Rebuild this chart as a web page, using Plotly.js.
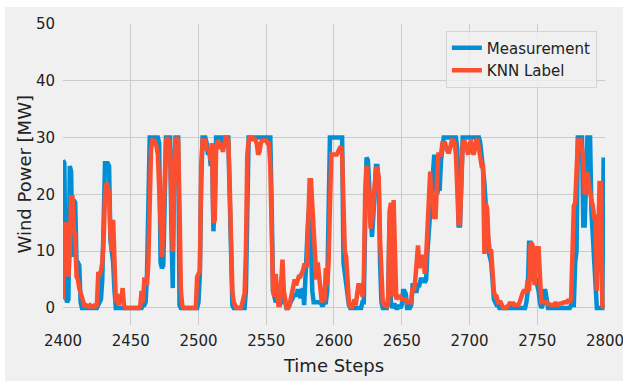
<!DOCTYPE html>
<html>
<head>
<meta charset="utf-8">
<script src="https://cdn.plot.ly/plotly-3.0.1.min.js"></script>
<style>
  html, body { margin: 0; padding: 0; background: #ffffff; }
  #chart { position: absolute; left: 5px; top: 7px; width: 618px; height: 374px; }
</style>
</head>
<body>
<div id="chart"></div>
<script>
const startStep = 2400;

const measurement = [
  // 2400-2439
  26, 25.5, 2, 1, 1.5, 25, 24, 9, 19, 18.5,
  8, 8, 7.5, 1, 0, 0, 0, 0, 0, 0,
  0, 0, 0, 0, 0, 0, 0.5, 1, 1.5, 5,
  14, 25.5, 25.5, 25.5, 25, 12, 10, 8, 3, 0,
  // 2440-2489
  0, 0, 0, 0, 0, 0, 0, 0, 0, 0,
  0, 0, 0, 0, 0, 0, 0, 0, 0, 0.5,
  0.5, 1, 6, 18, 30, 30, 30, 30, 30, 30,
  30, 29, 8, 7, 7.5, 18, 30, 30, 30, 30,
  14, 3.5, 25, 30, 30, 30, 0.5, 0, 0, 0,
  // 2490-2539
  0, 0, 0, 0, 0, 0, 0, 0, 0, 0,
  1, 6, 22, 30, 30, 30, 29, 27, 28, 25,
  29, 13.5, 18, 30, 30, 30, 30, 30, 29, 30,
  30, 30, 30, 20, 4, 0.5, 0, 0, 0, 0,
  0, 0, 0, 0, 0, 3, 20, 30, 30, 30,
  // 2540-2589
  30, 30, 30, 30, 30, 30, 30, 30, 30, 30,
  30, 30, 30, 30, 18, 3, 2, 1, 1.5, 1,
  0.5, 1, 2, 2, 0.5, 0, 0, 0.5, 1, 1.5,
  2, 2.5, 2, 3, 3, 2, 2, 3.5, 0.5, 7,
  13, 16, 18, 10, 3, 1, 1, 1, 1, 1,
  // 2590-2639
  1, 0.5, 0.5, 1, 1, 3, 15, 30, 30, 30,
  30, 30, 30, 30, 30, 30, 30, 8, 6, 3,
  1, 0.5, 0, 0, 0, 0, 0, 0, 0, 0,
  0, 1, 1, 15, 26.5, 26, 20, 15, 12.5, 16,
  21, 25, 25, 22, 8, 1, 0, 0, 0, 0,
  // 2640-2689
  2, 15.5, 1, 0, 0.5, 0.5, 0, 0, 0.5, 0,
  0.5, 3, 3, 2.5, 0, 0, 0, 0.5, 4, 4,
  3, 3, 4, 4, 5, 5, 5, 4.5, 5, 10,
  14, 16, 20, 24, 27, 22, 20, 21, 21, 26,
  29, 30, 30, 30, 30, 30, 30, 30, 30, 30,
  // 2690-2739
  30, 28, 14.5, 14.5, 25, 30, 30, 30, 30, 30,
  30, 30, 30, 30, 30, 30, 30, 30, 29, 27,
  25, 22, 18, 16, 10, 9, 8, 5, 1.5, 1,
  0.5, 0.5, 0, 0, 0, 0, 0, 0, 0, 0,
  0, 0, 0, 0, 0, 0, 0, 0, 0, 0,
  // 2740-2799
  0, 0, 1, 3, 11.5, 11.5, 7, 5, 5, 5,
  4, 3, 1, 0, 0.5, 3, 3, 0.5, 0, 0,
  0, 0, 0, 0, 0, 0, 0, 0, 0, 0,
  0, 0, 0, 0, 0, 0.5, 0.5, 0.5, 8, 10,
  30, 30, 30, 30, 14.5, 14.5, 22, 30, 30, 30,
  17, 12, 8, 4, 0, 0, 0, 0, 0, 26.5
];

const knnLabel = [
  // 2400-2439
  1.5, 14.5, 15, 13, 5.5, 10, 19.5, 19.5, 13.5, 13,
  5.5, 5, 3.5, 2.5, 1.5, 0.5, 0.2, 0.5, 0.3, 0.2,
  0.5, 0.3, 0.2, 0.4, 0.3, 0.5, 6, 6, 6.5, 8,
  12, 20, 22, 21.5, 20, 13, 10, 15.5, 7, 1,
  // 2440-2489
  2.5, 0.5, 1.5, 1, 3.5, 0.5, 0, 0, 0, 0,
  0, 0, 0, 0, 0, 0, 0, 0.3, 3, 1,
  5, 5, 4, 8, 20, 28, 29.5, 29.5, 29, 28.5,
  27, 22, 15, 9, 14, 25, 29.5, 30, 29.5, 28,
  18, 10, 20, 29.5, 30, 29.5, 18, 3, 0.5, 0,
  // 2490-2539
  0, 0, 0, 0, 0, 0, 0, 0, 0, 5.5,
  6, 6.5, 25, 29.5, 29.5, 29.5, 28, 28, 27.5, 26,
  29, 15, 15.5, 28, 29.5, 29, 28, 29, 27.5, 29,
  30, 30, 29.5, 22, 10, 3, 1, 0.3, 0, 0,
  0, 0, 0.5, 2, 2.5, 10, 27, 29.5, 30, 30,
  // 2540-2589
  29.5, 30, 29.5, 29, 27, 27.5, 29, 29.5, 29.5, 29.5,
  29.5, 29, 29, 25, 12, 3, 2, 6, 3, 0.5,
  0.5, 5, 8.5, 3, 0.5, 0, 0, 0.3, 1.5, 2.5,
  4, 5, 4, 5, 5.5, 5.5, 6, 6.5, 7.5, 7.5,
  7.5, 15, 22.5, 22.5, 18, 12, 8.5, 5, 8, 5,
  // 2590-2639
  2, 1, 1.5, 1.5, 7, 4, 8, 20, 27, 27,
  27, 27, 27, 27.5, 28, 28.5, 27, 15, 10, 9,
  3, 1, 0.3, 0.2, 0.5, 1.5, 0.5, 3, 4, 4,
  3.5, 2, 5, 20, 25, 23, 18, 14, 15, 18,
  22, 24.5, 24.5, 23, 12, 4, 1, 0.5, 0.3, 0.3,
  // 2640-2689
  1, 17, 18.5, 2, 19, 8, 1.5, 2, 2, 2,
  1.5, 1.5, 1.5, 1.5, 1, 1, 1, 1, 3.5, 3,
  5, 8, 11, 7, 8, 9, 9, 6, 9, 15,
  20, 24, 18, 20, 16, 16, 22, 27, 27, 27,
  29, 29, 29, 28, 27.5, 27.5, 29, 29.5, 29.5, 29,
  // 2690-2739
  27, 20, 14.5, 15, 25, 29, 29.5, 29, 28, 27,
  28.5, 29.5, 28, 27, 28, 29.5, 29.5, 28, 26, 25,
  25, 9.5, 18.5, 17.5, 12, 10, 10, 6, 3, 2,
  2, 1, 1, 1, 0.5, 0, 0, 0, 0.3, 0.5,
  1, 0.5, 1, 0.5, 0.5, 0.5, 0.5, 1, 2, 2.5,
  // 2740-2799
  3, 3, 3, 5, 3, 11, 11.5, 10.5, 4, 9,
  10.5, 10.5, 5, 1, 1, 1, 1, 1, 0.8, 0.5,
  0.5, 0.5, 0.5, 0.8, 0.8, 0.5, 0.8, 0.8, 0.8, 1,
  1, 1, 1, 1.5, 1, 1.5, 10, 18, 18.5, 24,
  29.5, 29.5, 29.5, 28, 26, 20, 22, 24, 22, 20,
  19, 18, 16, 16, 3, 12, 22, 22, 0.5, 0
];

const timeSteps = measurement.map((_, i) => startStep + i);
const xTickVals = [2400, 2450, 2500, 2550, 2600, 2650, 2700, 2750, 2800];
const yTickVals = [0, 10, 20, 30, 40, 50];

const font = "DejaVu Sans, Liberation Sans, sans-serif";

const traces = [
  {
    x: timeSteps, y: measurement, type: 'scatter', mode: 'lines',
    name: 'Measurement',
    line: { color: '#008fd5', width: 4.5 }
  },
  {
    x: timeSteps, y: knnLabel, type: 'scatter', mode: 'lines',
    name: 'KNN Label',
    line: { color: '#fc4f30', width: 4.5 }
  }
];

const layout = {
  width: 618, height: 374,
  paper_bgcolor: '#f0f0f0', plot_bgcolor: '#f0f0f0',
  margin: { l: 58, r: 18, t: 17, b: 56 },
  font: { family: font, color: '#222', size: 15 },
  showlegend: true,
  legend: {
    x: 0.985, xanchor: 'right', y: 0.978, yanchor: 'top',
    bgcolor: 'rgba(240,240,240,0.8)', bordercolor: '#d4d4d4', borderwidth: 1,
    font: { family: font, size: 15, color: '#222' },
    itemwidth: 30
  },
  xaxis: {
    range: [2400, 2800.01], tickvals: xTickVals,
    showgrid: true, gridcolor: '#cbcbcb', gridwidth: 1,
    zeroline: false, showline: false,
    ticks: 'outside', ticklen: 2, tickcolor: 'rgba(0,0,0,0)',
    ticklabeloverflow: 'allow',
    tickfont: { family: font, size: 15, color: '#222' },
    title: { text: 'Time Steps', font: { family: font, size: 18, color: '#222' }, standoff: 10 }
  },
  yaxis: {
    range: [-3, 50], tickvals: yTickVals,
    showgrid: true, gridcolor: '#cbcbcb', gridwidth: 1,
    zeroline: false, showline: false,
    ticks: 'outside', ticklen: 4, tickcolor: 'rgba(0,0,0,0)',
    tickfont: { family: font, size: 15, color: '#222' }
  },
  annotations: [
    {
      text: 'Wind Power [MW]', xref: 'paper', yref: 'paper',
      x: 0, y: 0.5, xanchor: 'center', yanchor: 'middle',
      xshift: -39, textangle: -90, showarrow: false,
      font: { family: font, size: 18, color: '#222' }
    }
  ]
};

Plotly.newPlot('chart', traces, layout, { displayModeBar: false, staticPlot: true });
</script>
</body>
</html>
